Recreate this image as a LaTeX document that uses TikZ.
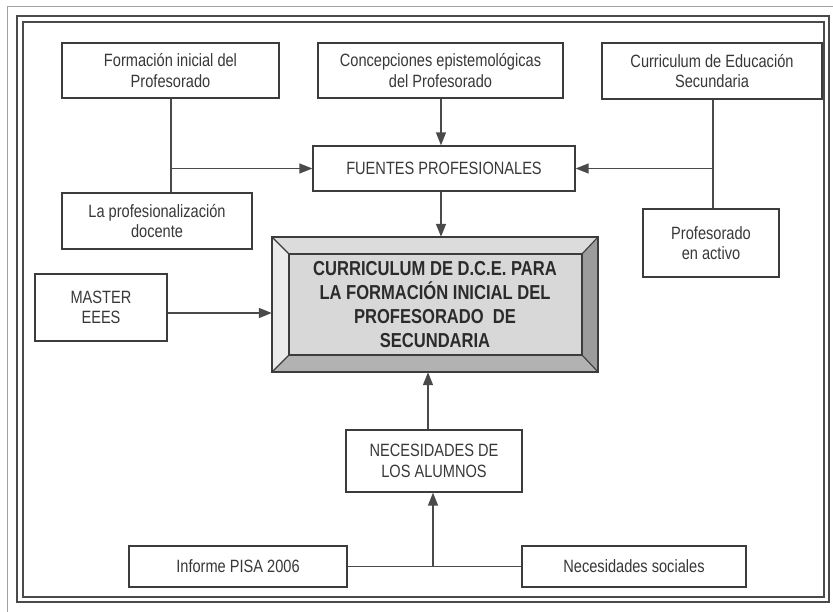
\documentclass[tikz,border=0pt]{standalone}
\usepackage{fontspec}
\setmainfont{Liberation Sans}
\newfontfamily\narrowfont[FakeStretch=0.82]{Liberation Sans}
\usetikzlibrary{arrows.meta,calc}
\definecolor{boxline}{HTML}{3C3C3C}
\definecolor{lineclr}{HTML}{4A4A4A}
\definecolor{txt}{HTML}{383838}
\definecolor{ctxt}{HTML}{2B2B2B}
\definecolor{frameclr}{HTML}{4A4A4A}
\definecolor{outergray}{HTML}{A0A0A0}
\definecolor{bevtop}{HTML}{DCDCDC}
\definecolor{bevleft}{HTML}{EBEBEB}
\definecolor{bevright}{HTML}{9C9C9C}
\definecolor{bevbot}{HTML}{B2B2B2}
\definecolor{bevin}{HTML}{D8D8D8}
\begin{document}
\begin{tikzpicture}[x=1pt,y=-1pt,
  box/.style={draw=boxline, line width=1.3pt, fill=white, inner sep=0pt,
    text=txt, align=center, font=\narrowfont\fontsize{17.8}{20.7}\selectfont},
  conn/.style={draw=lineclr, line width=1.4pt},
  arr/.style={conn, -{Triangle[length=13pt,width=10pt]}},
  bevel/.style={draw=boxline, line width=1.1pt, line join=miter}]
\fill[white] (0,0) rectangle (833,612);
\useasboundingbox (0,0) rectangle (833,612);
% frame
\draw[outergray, line width=1pt] (833,7) -- (7,7) -- (7,612);
\draw[frameclr, line width=1.3pt] (17,16) rectangle (829,602);
\draw[frameclr, line width=1.3pt] (23,22) rectangle (824,597);
% central bevelled box
\fill[bevtop] (272,237) -- (598,237) -- (582,254) -- (289,254) -- cycle;
\fill[bevleft] (272,237) -- (289,254) -- (289,355) -- (272,372) -- cycle;
\fill[bevright] (598,237) -- (598,372) -- (582,355) -- (582,254) -- cycle;
\fill[bevbot] (272,372) -- (598,372) -- (582,355) -- (289,355) -- cycle;
\fill[bevin] (289,254) rectangle (582,355);
\draw[bevel] (272,237) rectangle (598,372);
\draw[bevel] (289,254) rectangle (582,355);
\draw[bevel] (272,237) -- (289,254) (598,237) -- (582,254)
  (272,372) -- (289,355) (598,372) -- (582,355);
\node[inner sep=0pt, minimum width=326pt, minimum height=135pt, align=center,
  text=ctxt, font=\narrowfont\bfseries\fontsize{20.2}{24.3}\selectfont]
  (central) at (435,304.5)
  {CURRICULUM DE D.C.E. PARA\\LA FORMACIÓN INICIAL DEL\\PROFESORADO\ \ DE\\SECUNDARIA};
% boxes
\node[box, minimum width=217pt, minimum height=55pt] (form) at (170.5,70.5)
  {Formación inicial del\\Profesorado};
\node[box, minimum width=245pt, minimum height=55pt] (conc) at (440.5,70.5)
  {Concepciones epistemológicas\\del Profesorado};
\node[box, minimum width=220pt, minimum height=56pt] (curr) at (712,71)
  {Curriculum de Educación\\Secundaria};
\node[box, minimum width=262pt, minimum height=45pt] (fuentes) at (444,168.5)
  {FUENTES PROFESIONALES};
\node[box, minimum width=190pt, minimum height=56pt] (lapro) at (157,221)
  {La profesionalización\\docente};
\node[box, minimum width=136pt, minimum height=68pt] (activo) at (711,243)
  {Profesorado\\en activo};
\node[box, minimum width=132pt, minimum height=67pt] (master) at (101,307.5)
  {MASTER\\EEES};
\node[box, minimum width=176pt, minimum height=62pt] (necal) at (434,461)
  {NECESIDADES DE\\LOS ALUMNOS};
\node[box, minimum width=218pt, minimum height=41pt] (pisa) at (238,566.5)
  {Informe PISA 2006};
\node[box, minimum width=224pt, minimum height=41pt] (socs) at (634,566.5)
  {Necesidades sociales};
% connectors
\coordinate (fx) at (171,0);
\coordinate (cx) at (441,0);
\coordinate (rx) at (713,0);
\coordinate (my) at (0,313);
\coordinate (ux) at (428,0);
\coordinate (lx) at (433,0);
\draw[conn] (fx |- form.south) -- (fx |- lapro.north);
\draw[arr] (fx |- fuentes.west) -- (fuentes.west);
\draw[arr] (cx |- conc.south) -- (cx |- fuentes.north);
\draw[conn] (rx |- curr.south) -- (rx |- activo.north);
\draw[arr] (rx |- fuentes.east) -- (fuentes.east);
\draw[arr] (cx |- fuentes.south) -- (cx |- central.north);
\draw[arr] (master.east |- my) -- (central.west |- my);
\draw[arr] (ux |- necal.north) -- (ux |- central.south);
\draw[conn] (pisa.east) -- (socs.west);
\draw[arr] (lx |- pisa.east) -- (lx |- necal.south);
\end{tikzpicture}
\end{document}
